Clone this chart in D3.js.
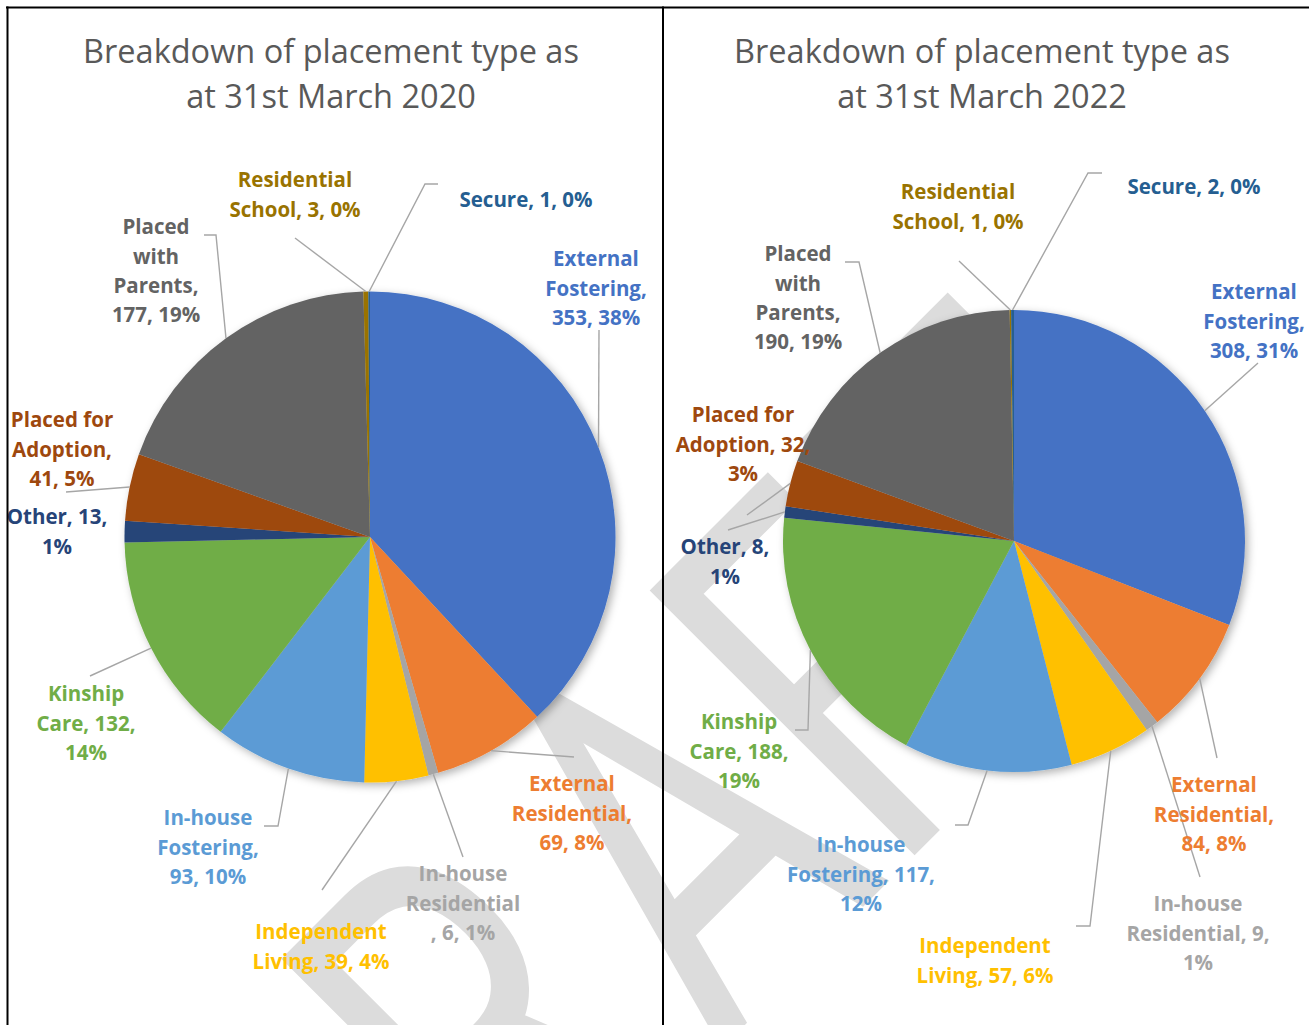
<!DOCTYPE html>
<html>
<head>
<meta charset="utf-8">
<script src="https://cdn.jsdelivr.net/npm/d3@7"></script>
<style>
  body { margin: 0; background: #fff; }
  svg { display: block; }
</style>
</head>
<body>
<script>
// data
const categories = ["External Fostering", "External Residential", "In-house Residential",
  "Independent Living", "In-house Fostering", "Kinship Care", "Other",
  "Placed for Adoption", "Placed with Parents", "Residential School", "Secure"];
const values2020 = [353, 69, 6, 39, 93, 132, 13, 41, 177, 3, 1];
const values2022 = [308, 84, 9, 57, 117, 188, 8, 32, 190, 1, 2];
const titles2020 = ["Breakdown of placement type as", "at 31st March 2020"];
const titles2022 = ["Breakdown of placement type as", "at 31st March 2022"];
const colors = ["#4472C4", "#ED7D31", "#A5A5A5", "#FFC000", "#5B9BD5", "#70AD47",
  "#264478", "#9E480E", "#636363", "#997300", "#255E91"];

// label layout: centre x, first line y, words per line, leader points (label side)
const layout2020 = [
  { x: 596, y: 259, wrap: [1, 1, 2], leader: [[599, 330]] },
  { x: 572, y: 784, wrap: [1, 1, 2], leader: [[574, 757]] },
  { x: 463, y: 874, wrap: [1, 1, 2], leader: [[463, 857]], commaDown: true },
  { x: 321, y: 932, wrap: [1, 3], leader: [[322, 890]] },
  { x: 208, y: 818, wrap: [1, 1, 2], leader: [[264, 826], [278, 826]] },
  { x: 86, y: 694, wrap: [1, 2, 1], leader: [[90, 676]] },
  { x: 57, y: 517, wrap: [2, 1], leader: [] },
  { x: 62, y: 420, wrap: [2, 1, 2], leader: [[66, 492]] },
  { x: 156, y: 227, wrap: [1, 1, 1, 2], leader: [[204, 235], [216, 235]] },
  { x: 295, y: 180, wrap: [1, 3], leader: [[295, 238]] },
  { x: 526, y: 200, wrap: [3], leader: [[438, 184], [425, 184]] }
];
const layout2022 = [
  { x: 1254, y: 292, wrap: [1, 1, 2], leader: [[1258, 363]] },
  { x: 1214, y: 785, wrap: [1, 1, 2], leader: [[1217, 758]] },
  { x: 1198, y: 904, wrap: [1, 2, 1], leader: [[1200, 877]] },
  { x: 985, y: 946, wrap: [1, 3], leader: [[1076, 926], [1090, 926]] },
  { x: 861, y: 845, wrap: [1, 2, 1], leader: [[955, 825], [968, 825]] },
  { x: 739, y: 722, wrap: [1, 2, 1], leader: [[795, 730], [808, 730]] },
  { x: 725, y: 547, wrap: [2, 1], leader: [[728, 530]] },
  { x: 743, y: 415, wrap: [2, 2, 1], leader: [[747, 515]] },
  { x: 798, y: 254, wrap: [1, 1, 1, 2], leader: [[845, 262], [859, 262]] },
  { x: 958, y: 192, wrap: [1, 3], leader: [[959, 261]] },
  { x: 1194, y: 187, wrap: [3], leader: [[1102, 173], [1088, 173]] }
];

const W = 1309, H = 1025;
const svg = d3.select("body").append("svg").attr("width", W).attr("height", H);

const defs = svg.append("defs");
defs.append("filter").attr("id", "shadow")
  .attr("x", "-10%").attr("y", "-10%").attr("width", "125%").attr("height", "125%")
  .append("feDropShadow")
  .attr("dx", 3).attr("dy", 3).attr("stdDeviation", 4)
  .attr("flood-color", "#000").attr("flood-opacity", 0.3);

// watermark, sits behind everything
const wm = svg.append("g")
  .attr("transform", "translate(540,700) rotate(-45) scale(0.72,1)");
const wmText = wm.append("text")
  .attr("font-family", "Roboto, 'Open Sans', sans-serif")
  .attr("font-size", 527)
  .attr("fill", "#dcdcdc")
  .attr("dx", "0 0 55 0 30")
  .text("DRAFT");
const aBox = wmText.node().getExtentOfChar(2);
wmText.attr("x", -(aBox.x + aBox.width / 2)).attr("y", 527 * 0.711);

// Excel-style percentages (largest remainder so they sum to 100)
function percents(values) {
  const total = d3.sum(values);
  const raw = values.map(v => v / total * 100);
  const out = raw.map(Math.floor);
  let left = 100 - d3.sum(out);
  const order = d3.range(values.length).sort((a, b) => (raw[b] - out[b]) - (raw[a] - out[a]));
  for (let i = 0; i < left; i++) out[order[i]] += 1;
  return out;
}

function wrapLabel(text, wrap, commaDown) {
  const words = text.split(" ");
  const lines = [];
  let k = 0;
  wrap.forEach(n => { lines.push(words.slice(k, k + n).join(" ")); k += n; });
  if (commaDown) {
    for (let i = 0; i < lines.length - 1; i++) {
      if (lines[i].endsWith(",")) {
        lines[i] = lines[i].slice(0, -1);
        lines[i + 1] = ", " + lines[i + 1];
      }
    }
  }
  return lines;
}

function drawChart(cfg) {
  const g = svg.append("g");

  // title
  g.append("text")
    .attr("x", cfg.titleX).attr("y", 63)
    .attr("text-anchor", "middle")
    .attr("font-family", "'Open Sans', sans-serif")
    .attr("font-size", 32.5)
    .attr("fill", "#595959")
    .selectAll("tspan").data(cfg.title).join("tspan")
    .attr("x", cfg.titleX).attr("dy", (d, i) => i === 0 ? 0 : 45)
    .text(d => d);

  const data = categories.map((c, i) => ({ name: c, value: cfg.values[i], color: colors[i] }));
  const pct = percents(cfg.values);

  const pie = d3.pie().sort(null).value(d => d.value);
  const arcs = pie(data);
  const arc = d3.arc().innerRadius(0).outerRadius(cfg.r);
  const edge = d3.arc().innerRadius(cfg.r).outerRadius(cfg.r);

  const pieG = g.append("g")
    .attr("transform", `translate(${cfg.cx},${cfg.cy})`)
    .attr("filter", "url(#shadow)");
  pieG.selectAll("path").data(arcs).join("path")
    .attr("d", arc)
    .attr("fill", d => d.data.color);

  // leader lines
  const line = d3.line();
  arcs.forEach((a, i) => {
    const lay = cfg.layout[i];
    if (!lay.leader.length) return;
    const c = edge.centroid(a);
    const pts = lay.leader.concat([[cfg.cx + c[0], cfg.cy + c[1]]]);
    g.append("path")
      .attr("d", line(pts))
      .attr("fill", "none")
      .attr("stroke", "#a6a6a6")
      .attr("stroke-width", 1.4);
  });

  // data labels
  arcs.forEach((a, i) => {
    const lay = cfg.layout[i];
    const label = `${a.data.name}, ${a.data.value}, ${pct[i]}%`;
    const lines = wrapLabel(label, lay.wrap, lay.commaDown);
    g.append("text")
      .attr("text-anchor", "middle")
      .attr("font-family", "'Open Sans', sans-serif")
      .attr("font-weight", 700)
      .attr("font-size", 20.5)
      .attr("fill", a.data.color)
      .selectAll("tspan").data(lines).join("tspan")
      .attr("x", lay.x)
      .attr("y", (d, j) => lay.y + j * 29.3)
      .attr("dy", "0.36em")
      .text(d => d);
  });
}

drawChart({ title: titles2020, values: values2020, layout: layout2020,
  cx: 370, cy: 537, r: 245.5, titleX: 331 });
drawChart({ title: titles2022, values: values2022, layout: layout2022,
  cx: 1014, cy: 541, r: 231, titleX: 982 });

// panel borders
const border = svg.append("g").attr("stroke", "#000").attr("stroke-width", 2).attr("fill", "none");
border.append("line").attr("x1", 6).attr("x2", W).attr("y1", 7.5).attr("y2", 7.5);
border.append("line").attr("x1", 7.5).attr("x2", 7.5).attr("y1", 6.5).attr("y2", H);
border.append("line").attr("x1", 663).attr("x2", 663).attr("y1", 6.5).attr("y2", H);
</script>
</body>
</html>
